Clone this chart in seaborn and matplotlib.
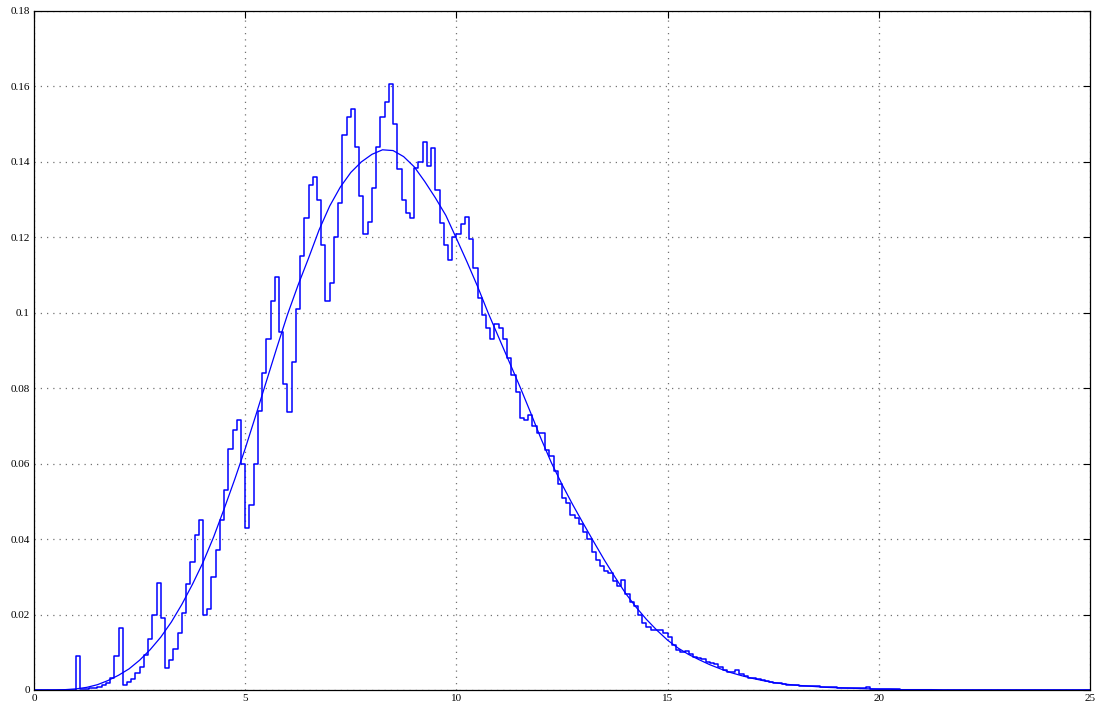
import numpy as np
import pandas as pd
import matplotlib
matplotlib.use("Agg")
import matplotlib.pyplot as plt
import seaborn as sns

# histogram heights, one value per 0.1 wide bin from 0 to 25
bin_width = 0.1
hist_heights = [
    0.0000, 0.0000, 0.0000, 0.0000, 0.0000, 0.0000, 0.0000, 0.0000, 0.0000, 0.0001,
    0.0090, 0.0002, 0.0003, 0.0004, 0.0006, 0.0008, 0.0012, 0.0018, 0.0032, 0.0090,
    0.0164, 0.0014, 0.0020, 0.0030, 0.0045, 0.0062, 0.0092, 0.0135, 0.0200, 0.0284,
    0.0190, 0.0058, 0.0080, 0.0108, 0.0150, 0.0205, 0.0280, 0.0340, 0.0410, 0.0450,
    0.0200, 0.0215, 0.0300, 0.0370, 0.0450, 0.0530, 0.0640, 0.0690, 0.0716, 0.0600,
    0.0430, 0.0490, 0.0600, 0.0740, 0.0840, 0.0930, 0.1030, 0.1095, 0.0950, 0.0810,
    0.0738, 0.0870, 0.1010, 0.1150, 0.1250, 0.1340, 0.1360, 0.1300, 0.1180, 0.1030,
    0.1080, 0.1200, 0.1290, 0.1470, 0.1520, 0.1540, 0.1440, 0.1310, 0.1210, 0.1240,
    0.1330, 0.1440, 0.1520, 0.1560, 0.1607, 0.1500, 0.1380, 0.1300, 0.1265, 0.1250,
    0.1385, 0.1400, 0.1454, 0.1390, 0.1436, 0.1326, 0.1238, 0.1180, 0.1140, 0.1200,
    0.1210, 0.1235, 0.1255, 0.1195, 0.1120, 0.1040, 0.0995, 0.0960, 0.0930, 0.0970,
    0.0960, 0.0930, 0.0880, 0.0835, 0.0790, 0.0720, 0.0716, 0.0730, 0.0700, 0.0680,
    0.0680, 0.0635, 0.0620, 0.0580, 0.0545, 0.0510, 0.0495, 0.0465, 0.0455, 0.0440,
    0.0420, 0.0400, 0.0365, 0.0345, 0.0330, 0.0315, 0.0310, 0.0290, 0.0275, 0.0292,
    0.0255, 0.0232, 0.0222, 0.0200, 0.0177, 0.0168, 0.0160, 0.0158, 0.0158, 0.0152,
    0.0140, 0.0120, 0.0106, 0.0102, 0.0104, 0.0096, 0.0088, 0.0086, 0.0082, 0.0075,
    0.0071, 0.0068, 0.0062, 0.0052, 0.0049, 0.0048, 0.0053, 0.0042, 0.0036, 0.0031,
    0.0031, 0.0030, 0.0027, 0.0023, 0.0022, 0.0019, 0.0018, 0.0017, 0.0014, 0.0013,
    0.0013, 0.0011, 0.0011, 0.0010, 0.0011, 0.0010, 0.0009, 0.0008, 0.0008, 0.0007,
    0.0006, 0.0006, 0.0005, 0.0005, 0.0004, 0.0004, 0.0004, 0.0007, 0.0003, 0.0003,
    0.0002, 0.0002, 0.0002, 0.0002, 0.0002, 0.0001, 0.0001, 0.0001, 0.0001, 0.0001,
    0.0000, 0.0000, 0.0000, 0.0000, 0.0000, 0.0000, 0.0000, 0.0000, 0.0000, 0.0000,
    0.0000, 0.0000, 0.0000, 0.0000, 0.0000, 0.0000, 0.0000, 0.0000, 0.0000, 0.0000,
    0.0000, 0.0000, 0.0000, 0.0000, 0.0000, 0.0000, 0.0000, 0.0000, 0.0000, 0.0000,
    0.0000, 0.0000, 0.0000, 0.0000, 0.0000, 0.0000, 0.0000, 0.0000, 0.0000, 0.0000,
]

# fitted density curve, read every 0.25 from 0 to 25
curve_step = 0.25
curve_y = [
    0.0000, 0.0000, 0.0000, 0.0001, 0.0003, 0.0007, 0.0014, 0.0025,
    0.0039, 0.0056, 0.0079, 0.0107, 0.0140, 0.0180, 0.0227, 0.0280,
    0.0338, 0.0405, 0.0480, 0.0558, 0.0640, 0.0728, 0.0818, 0.0908,
    0.0995, 0.1073, 0.1145, 0.1220, 0.1283, 0.1333, 0.1372, 0.1400,
    0.1420, 0.1432, 0.1430, 0.1414, 0.1387, 0.1348, 0.1305, 0.1258,
    0.1197, 0.1135, 0.1070, 0.1000, 0.0935, 0.0870, 0.0805, 0.0737,
    0.0667, 0.0602, 0.0545, 0.0492, 0.0442, 0.0393, 0.0345, 0.0300,
    0.0257, 0.0220, 0.0187, 0.0158, 0.0132, 0.0111, 0.0094, 0.0080,
    0.0067, 0.0056, 0.0046, 0.0038, 0.0031, 0.0025, 0.0020, 0.0016,
    0.0013, 0.0011, 0.0009, 0.0007, 0.0006, 0.0005, 0.0004, 0.0003,
    0.0002, 0.0002, 0.0001, 0.0001, 0.0001, 0.0001, 0.0000, 0.0000,
    0.0000, 0.0000, 0.0000, 0.0000, 0.0000, 0.0000, 0.0000, 0.0000,
    0.0000, 0.0000, 0.0000, 0.0000, 0.0000,
]

x_ticks = [0, 5, 10, 15, 20, 25]
y_ticks = [0, 0.02, 0.04, 0.06, 0.08, 0.1, 0.12, 0.14, 0.16, 0.18]
y_tick_labels = ["0", "0.02", "0.04", "0.06", "0.08", "0.1", "0.12", "0.14", "0.16", "0.18"]

sns.set_style("white")
plt.rcParams["font.family"] = ["Liberation Serif", "DejaVu Serif"]

edges = np.arange(len(hist_heights) + 1) * bin_width
hist_df = pd.DataFrame({"x": edges[:-1] + bin_width / 2, "height": hist_heights})
curve_df = pd.DataFrame({"x": np.arange(len(curve_y)) * curve_step, "y": curve_y})

fig = plt.figure(figsize=(10.98, 7.05), dpi=100)
ax = fig.add_axes([0.031, 0.0213, 0.9617, 0.9631])

sns.histplot(data=hist_df, x="x", weights="height", bins=edges.tolist(), element="step",
             fill=False, color="blue", linewidth=1.1, ax=ax)
sns.lineplot(data=curve_df, x="x", y="y", color="blue", linewidth=0.9, ax=ax)

ax.set_xlim(0, 25)
ax.set_ylim(0, 0.18)
ax.set_xticks(x_ticks)
ax.set_xticklabels([str(t) for t in x_ticks])
ax.set_yticks(y_ticks)
ax.set_yticklabels(y_tick_labels)
ax.set_xlabel("")
ax.set_ylabel("")

# matlab style sparse dotted grid
ax.grid(True, linestyle=(0, (1, 4)), color="0.45", linewidth=0.9)
ax.tick_params(direction="in", top=True, right=True, length=5, width=0.8,
               labelsize=8, pad=3, colors="black")
for spine in ax.spines.values():
    spine.set_color("black")
    spine.set_linewidth(0.9)

plt.savefig("out.png", dpi=100)
plt.close()
